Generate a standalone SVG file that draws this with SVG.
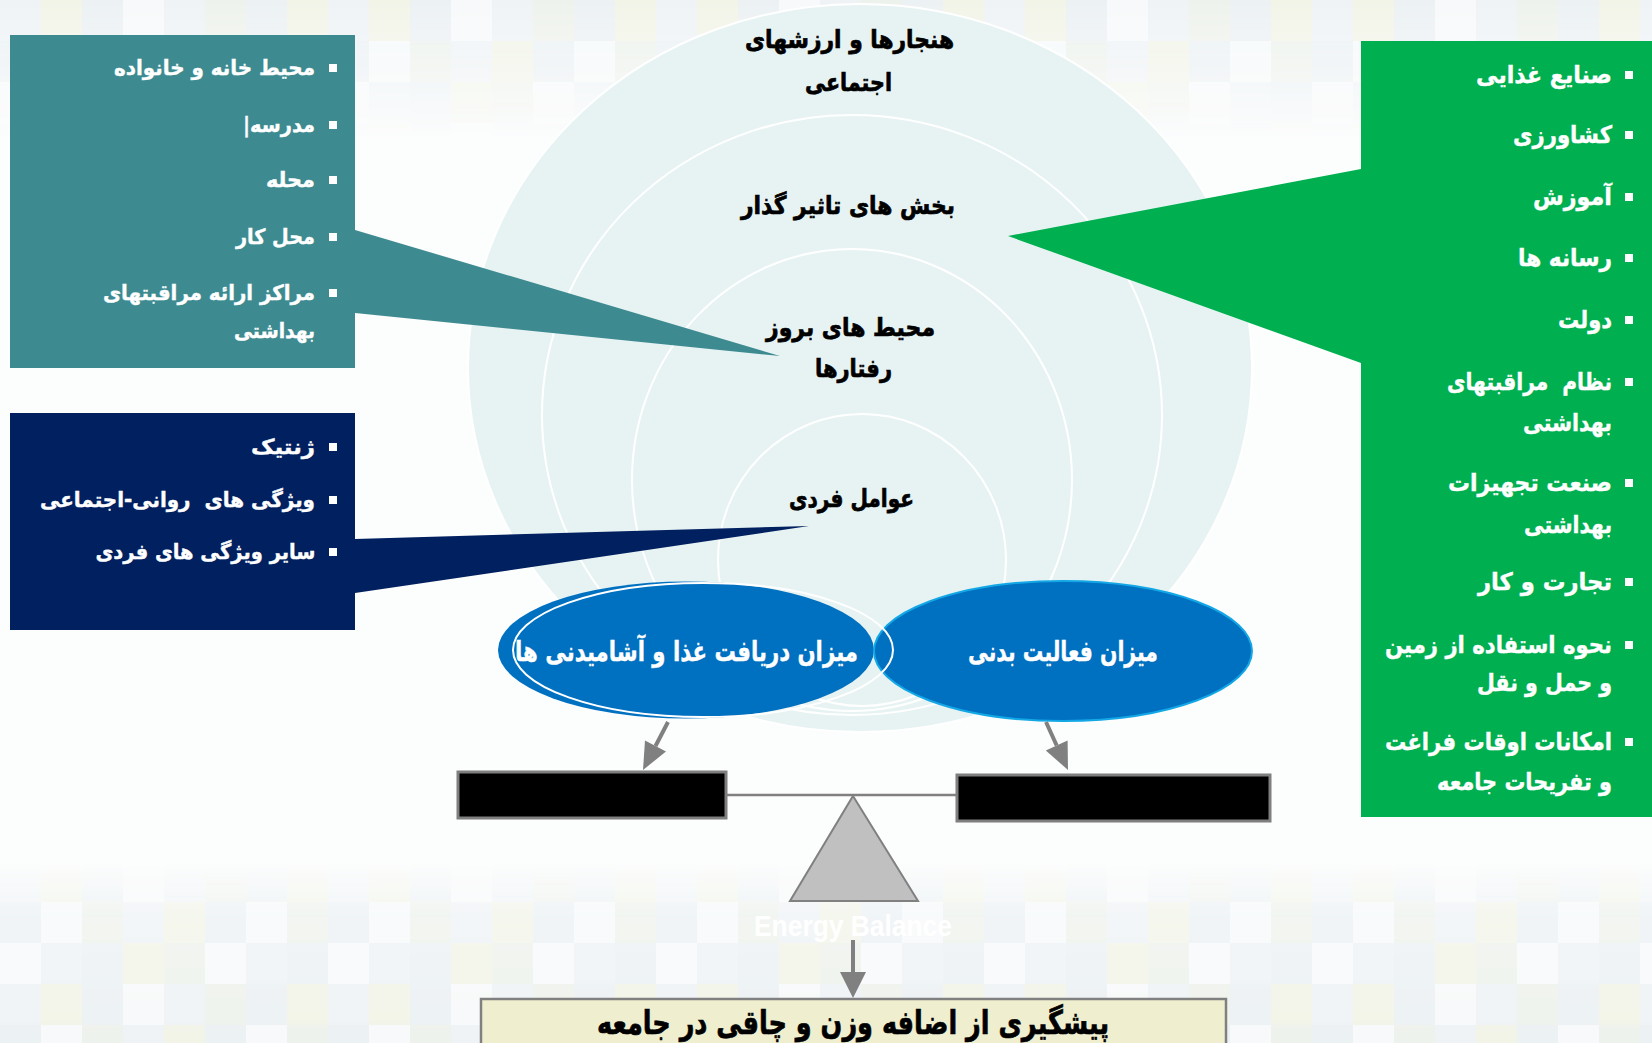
<svg xmlns="http://www.w3.org/2000/svg" width="1652" height="1043" viewBox="0 0 1652 1043">
<defs>
<style>
.fa{font-family:"DejaVu Sans","Noto Sans",sans-serif;font-weight:bold;text-anchor:middle;direction:rtl;unicode-bidi:embed}
.w{fill:#ffffff;stroke:#ffffff;stroke-width:0.4}
.k{fill:#000000;stroke:#000000;stroke-width:0.7}
.lst{font-size:21px}
.gl{font-size:24px}
.ctr{font-size:25px}
.ell{font-size:28px}
.bul{fill:#ffffff}
.ring{fill:none;stroke:#ffffff;stroke-width:2}
.arr{stroke:#808080;stroke-width:4;fill:none}
.ah{fill:#808080}
</style>
<pattern id="mosaic" x="0" y="0" width="328" height="123" patternUnits="userSpaceOnUse">
<rect x="0" y="0" width="41" height="41" fill="#eff3f6"/>
<rect x="41" y="0" width="41" height="41" fill="#f2f4e8"/>
<rect x="82" y="0" width="41" height="41" fill="#ecf1f4"/>
<rect x="123" y="0" width="41" height="41" fill="#f7f9fa"/>
<rect x="164" y="0" width="41" height="41" fill="#eff3f6"/>
<rect x="205" y="0" width="41" height="41" fill="#eef2ec"/>
<rect x="246" y="0" width="41" height="41" fill="#ecf1f4"/>
<rect x="287" y="0" width="41" height="41" fill="#f2f4e8"/>
<rect x="0" y="41" width="41" height="41" fill="#ecf1f4"/>
<rect x="41" y="41" width="41" height="41" fill="#f7f9fa"/>
<rect x="82" y="41" width="41" height="41" fill="#eef2ec"/>
<rect x="123" y="41" width="41" height="41" fill="#eff3f6"/>
<rect x="164" y="41" width="41" height="41" fill="#f2f4e8"/>
<rect x="205" y="41" width="41" height="41" fill="#ecf1f4"/>
<rect x="246" y="41" width="41" height="41" fill="#f7f9fa"/>
<rect x="287" y="41" width="41" height="41" fill="#eef2ec"/>
<rect x="0" y="82" width="41" height="41" fill="#f7f9fa"/>
<rect x="41" y="82" width="41" height="41" fill="#eff3f6"/>
<rect x="82" y="82" width="41" height="41" fill="#ecf1f4"/>
<rect x="123" y="82" width="41" height="41" fill="#f2f4e8"/>
<rect x="164" y="82" width="41" height="41" fill="#eef2ec"/>
<rect x="205" y="82" width="41" height="41" fill="#f7f9fa"/>
<rect x="246" y="82" width="41" height="41" fill="#eff3f6"/>
<rect x="287" y="82" width="41" height="41" fill="#ecf1f4"/>
</pattern>
<linearGradient id="fadeTop" x1="0" y1="0" x2="0" y2="1">
<stop offset="0" stop-color="#fff" stop-opacity="1"/>
<stop offset="0.55" stop-color="#fff" stop-opacity="0.55"/>
<stop offset="1" stop-color="#fff" stop-opacity="0"/>
</linearGradient>
<linearGradient id="fadeBot" x1="0" y1="0" x2="0" y2="1">
<stop offset="0" stop-color="#fff" stop-opacity="0"/>
<stop offset="0.3" stop-color="#fff" stop-opacity="0.75"/>
<stop offset="1" stop-color="#fff" stop-opacity="1"/>
</linearGradient>
<mask id="mTop"><rect x="0" y="0" width="1652" height="140" fill="url(#fadeTop)"/></mask>
<mask id="mBot"><rect x="0" y="862" width="1652" height="181" fill="url(#fadeBot)"/></mask>
</defs>

<g id="background">
<rect x="0" y="0" width="1652" height="1043" fill="#fcfdfd"/>
<rect x="0" y="0" width="1652" height="140" fill="url(#mosaic)" mask="url(#mTop)"/>
<rect x="0" y="849" width="1652" height="194" fill="url(#mosaic)" mask="url(#mBot)"/>
</g>

<g id="rings">
<ellipse cx="860" cy="368" rx="392" ry="364" fill="#e7f3f3" stroke="#ffffff" stroke-width="2"/>
<ellipse class="ring" cx="852" cy="415" rx="310" ry="300"/>
<ellipse class="ring" cx="852" cy="480" rx="220" ry="231"/>
<ellipse class="ring" cx="862" cy="560" rx="144" ry="146"/>
</g>

<g id="node-teal">
<polygon points="10,35 355,35 355,230 780,356 355,313 355,368 10,368" fill="#3d8b91"/>
<rect class="bul" x="329" y="64" width="8" height="8"/>
<rect class="bul" x="329" y="121" width="8" height="8"/>
<rect class="bul" x="329" y="176" width="8" height="8"/>
<rect class="bul" x="329" y="233" width="8" height="8"/>
<rect class="bul" x="329" y="289" width="8" height="8"/>
<text class="fa w lst" x="214.5" y="75" textLength="201" lengthAdjust="spacingAndGlyphs">محیط خانه و خانواده</text>
<text class="fa w lst" x="279" y="132" textLength="72" lengthAdjust="spacingAndGlyphs">مدرسه|</text>
<text class="fa w lst" x="290.5" y="187" textLength="49" lengthAdjust="spacingAndGlyphs">محله</text>
<text class="fa w lst" x="275.5" y="244" textLength="79" lengthAdjust="spacingAndGlyphs">محل کار</text>
<text class="fa w lst" x="209" y="300" textLength="212" lengthAdjust="spacingAndGlyphs">مراکز ارائه مراقبتهای</text>
<text class="fa w lst" x="274.5" y="338" textLength="81" lengthAdjust="spacingAndGlyphs">بهداشتی</text>
</g>

<g id="node-navy">
<polygon points="10,413 355,413 355,539 809,526 355,593 355,630 10,630" fill="#002060"/>
<rect class="bul" x="329" y="443" width="8" height="8"/>
<rect class="bul" x="329" y="496" width="8" height="8"/>
<rect class="bul" x="329" y="548" width="8" height="8"/>
<text class="fa w lst" x="283" y="454" textLength="64" lengthAdjust="spacingAndGlyphs">ژنتیک</text>
<text class="fa w lst" x="177.5" y="507" textLength="275" lengthAdjust="spacingAndGlyphs" xml:space="preserve">ویژگی های  روانی-اجتماعی</text>
<text class="fa w lst" x="205.5" y="559" textLength="220" lengthAdjust="spacingAndGlyphs">سایر ویژگی های فردی</text>
</g>

<g id="node-green">
<polygon points="1361,41 1652,41 1652,817 1361,817 1361,363 1008,236 1361,169" fill="#00b050"/>
<rect class="bul" x="1625" y="71" width="8" height="8"/>
<rect class="bul" x="1625" y="131" width="8" height="8"/>
<rect class="bul" x="1625" y="193" width="8" height="8"/>
<rect class="bul" x="1625" y="254" width="8" height="8"/>
<rect class="bul" x="1625" y="316" width="8" height="8"/>
<rect class="bul" x="1625" y="378" width="8" height="8"/>
<rect class="bul" x="1625" y="479" width="8" height="8"/>
<rect class="bul" x="1625" y="578" width="8" height="8"/>
<rect class="bul" x="1625" y="641" width="8" height="8"/>
<rect class="bul" x="1625" y="738" width="8" height="8"/>
<text class="fa w gl" x="1544" y="83" textLength="136" lengthAdjust="spacingAndGlyphs">صنایع غذایی</text>
<text class="fa w gl" x="1562.5" y="143" textLength="99" lengthAdjust="spacingAndGlyphs">کشاورزی</text>
<text class="fa w gl" x="1572.5" y="205" textLength="79" lengthAdjust="spacingAndGlyphs">آموزش</text>
<text class="fa w gl" x="1565" y="266" textLength="94" lengthAdjust="spacingAndGlyphs">رسانه ها</text>
<text class="fa w gl" x="1585" y="328" textLength="54" lengthAdjust="spacingAndGlyphs">دولت</text>
<text class="fa w gl" x="1529.5" y="390" textLength="165" lengthAdjust="spacingAndGlyphs" xml:space="preserve">نظام  مراقبتهای</text>
<text class="fa w gl" x="1567.5" y="431" textLength="89" lengthAdjust="spacingAndGlyphs">بهداشتی</text>
<text class="fa w gl" x="1530" y="491" textLength="164" lengthAdjust="spacingAndGlyphs">صنعت تجهیزات</text>
<text class="fa w gl" x="1568" y="533" textLength="88" lengthAdjust="spacingAndGlyphs">بهداشتی</text>
<text class="fa w gl" x="1545" y="590" textLength="134" lengthAdjust="spacingAndGlyphs">تجارت و کار</text>
<text class="fa w gl" x="1498.5" y="653" textLength="227" lengthAdjust="spacingAndGlyphs">نحوه استفاده از زمین</text>
<text class="fa w gl" x="1544.5" y="691" textLength="135" lengthAdjust="spacingAndGlyphs">و حمل و نقل</text>
<text class="fa w gl" x="1498.5" y="750" textLength="227" lengthAdjust="spacingAndGlyphs">امکانات اوقات فراغت</text>
<text class="fa w gl" x="1524.5" y="790" textLength="175" lengthAdjust="spacingAndGlyphs">و تفریحات جامعه</text>
</g>

<g id="node-labels">
<text class="fa k ctr" x="849.5" y="48" textLength="209" lengthAdjust="spacingAndGlyphs">هنجارها و ارزشهای</text>
<text class="fa k ctr" x="848.5" y="91" textLength="87" lengthAdjust="spacingAndGlyphs">اجتماعی</text>
<text class="fa k ctr" x="848" y="214" textLength="214" lengthAdjust="spacingAndGlyphs">بخش های تاثیر گذار</text>
<text class="fa k ctr" x="850.5" y="336" textLength="169" lengthAdjust="spacingAndGlyphs">محیط های بروز</text>
<text class="fa k ctr" x="853.5" y="377" textLength="77" lengthAdjust="spacingAndGlyphs">رفتارها</text>
<text class="fa k ctr" x="851.5" y="507" textLength="125" lengthAdjust="spacingAndGlyphs">عوامل فردی</text>
</g>

<g id="node-intake">
<ellipse cx="686" cy="650" rx="188" ry="68.5" fill="#0070c0"/>
</g>
<g id="node-activity">
<ellipse cx="1063" cy="651" rx="189" ry="70" fill="#0070c0" stroke="#13a7e6" stroke-width="2"/>
<text class="fa w ell" x="1063" y="661" textLength="190" lengthAdjust="spacingAndGlyphs">میزان فعالیت بدنی</text>
</g>
<g id="node-intake-label">
<ellipse cx="703" cy="650" rx="190" ry="67" fill="none" stroke="#ffffff" stroke-width="2"/>
<text class="fa w ell" x="686.5" y="661" textLength="343" lengthAdjust="spacingAndGlyphs">میزان دریافت غذا و آشامیدنی ها</text>
</g>

<g id="node-scale">
<line x1="726" y1="795" x2="957" y2="795" stroke="#808080" stroke-width="2.5"/>
<rect x="458" y="772" width="268" height="46" fill="#000000" stroke="#7f7f7f" stroke-width="3"/>
<rect x="957" y="775" width="313" height="46" fill="#000000" stroke="#7f7f7f" stroke-width="3"/>
<polygon points="853,796 918,901 790,901" fill="#c0c0c0" stroke="#808080" stroke-width="2"/>
<text x="853" y="936" font-family="Liberation Sans, Arial, sans-serif" font-weight="bold" font-size="30" fill="#ffffff" text-anchor="middle" textLength="198" lengthAdjust="spacingAndGlyphs">Energy Balance</text>
</g>

<g id="node-outcome">
<rect x="481" y="999" width="745" height="60" fill="#efefd0" stroke="#808080" stroke-width="2.5"/>
<text class="fa k" font-size="33" x="853" y="1034" textLength="512" lengthAdjust="spacingAndGlyphs">پیشگیری از اضافه وزن و چاقی در جامعه</text>
</g>

<g id="connectors">
<line class="arr" x1="668" y1="722" x2="655.5" y2="746"/>
<polygon class="ah" points="643,770 666,751.5 645,740.5"/>
<line class="arr" x1="1046" y1="722" x2="1056.7" y2="745.5"/>
<polygon class="ah" points="1068,770 1067.6,740.5 1045.8,750.5"/>
<line class="arr" x1="853" y1="940" x2="853" y2="974"/>
<polygon class="ah" points="853,998 866,972 840,972"/>
</g>
</svg>
